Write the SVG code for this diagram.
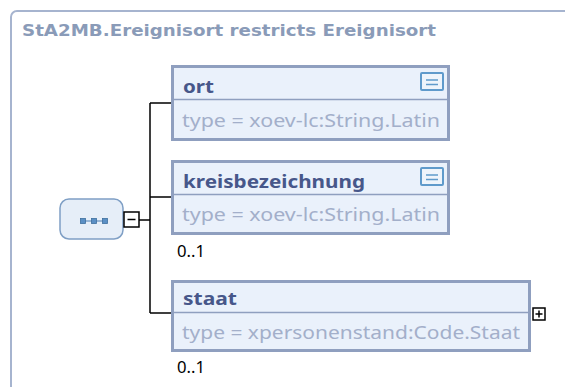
<svg xmlns="http://www.w3.org/2000/svg" width="565" height="387" viewBox="0 0 565 387">
<style>
.frame{fill:#ffffff;stroke:#a6b4cf;stroke-width:2}
.title{font-family:"DejaVu Sans",Verdana,sans-serif;font-weight:bold;font-size:15px;fill:#8a9bb8}
.box{fill:#eaf1fb;stroke:#8f9fbf;stroke-width:3}
.div{stroke:#8f9fbf;stroke-width:1.5}
.name{font-family:"Noto Sans","Open Sans",sans-serif;font-weight:bold;font-size:18px;fill:#47578a}
.type{font-family:"Noto Sans","Open Sans",sans-serif;font-size:17.5px;fill:#a3afca}
.card{font-family:"Noto Sans","Open Sans",sans-serif;font-size:17px;fill:#000}
.conn{fill:none;stroke:#000;stroke-width:1.5}
.doc{fill:#eef4fb;stroke:#5f9acb;stroke-width:2}
.docl{stroke:#5f9acb;stroke-width:1.5}
.tog{fill:#fff;stroke:#000;stroke-width:1.5}
</style>
<rect class="frame" x="11" y="11" width="600" height="420" rx="6"/>
<text class="title" x="22" y="36" textLength="414" lengthAdjust="spacingAndGlyphs">StA2MB.Ereignisort restricts Ereignisort</text>
<g id="connectors">
<path class="conn" d="M139 220H150M150 103V313M150 103H172M150 197H172M150 313H172"/>
</g>
<g id="sequence">
<rect x="60" y="199" width="63" height="40" rx="9" fill="#e6eef8" stroke="#7f9fc5" stroke-width="1.5"/>
<path d="M83 221H106" stroke="#4b7fb5" stroke-width="1"/>
<rect x="80.5" y="218.5" width="5" height="5" fill="#5a8fc5" stroke="#3f6f9f" stroke-width="0.8"/>
<rect x="91.5" y="218.5" width="5" height="5" fill="#5a8fc5" stroke="#3f6f9f" stroke-width="0.8"/>
<rect x="102.5" y="218.5" width="5" height="5" fill="#5a8fc5" stroke="#3f6f9f" stroke-width="0.8"/>
<rect class="tog" x="124" y="212" width="15" height="15"/>
<path d="M127.5 219.5H135.5" stroke="#000" stroke-width="1.5"/>
</g>
<g id="ort">
<rect class="box" x="172.5" y="66.5" width="276" height="73"/>
<line class="div" x1="174" y1="99.5" x2="447" y2="99.5"/>
<text class="name" x="183" y="93" textLength="31" lengthAdjust="spacingAndGlyphs">ort</text>
<rect class="doc" x="421" y="73" width="22" height="17" rx="1"/>
<path class="docl" d="M426 80H438M426 84.5H438"/>
<text class="type" x="182" y="127" textLength="258" lengthAdjust="spacingAndGlyphs">type = xoev-lc:String.Latin</text>
</g>
<g id="kreisbezeichnung">
<rect class="box" x="172.5" y="161.5" width="276" height="72"/>
<line class="div" x1="174" y1="194.5" x2="447" y2="194.5"/>
<text class="name" x="183" y="188" textLength="182" lengthAdjust="spacingAndGlyphs">kreisbezeichnung</text>
<rect class="doc" x="421" y="168" width="22" height="17" rx="1"/>
<path class="docl" d="M426 175H438M426 179.5H438"/>
<text class="type" x="182" y="221" textLength="258" lengthAdjust="spacingAndGlyphs">type = xoev-lc:String.Latin</text>
<text class="card" x="177" y="257" textLength="28" lengthAdjust="spacingAndGlyphs">0..1</text>
</g>
<g id="staat">
<rect class="box" x="172.5" y="281.5" width="357" height="69"/>
<line class="div" x1="174" y1="312.5" x2="528" y2="312.5"/>
<text class="name" x="183" y="305" textLength="54" lengthAdjust="spacingAndGlyphs">staat</text>
<text class="type" x="182" y="339" textLength="338" lengthAdjust="spacingAndGlyphs">type = xpersonenstand:Code.Staat</text>
<rect class="tog" x="533" y="308" width="12" height="12"/>
<path d="M535.5 314H542.5M539 310.5V317.5" stroke="#000" stroke-width="1.5"/>
<text class="card" x="177" y="373" textLength="28" lengthAdjust="spacingAndGlyphs">0..1</text>
</g>
</svg>
